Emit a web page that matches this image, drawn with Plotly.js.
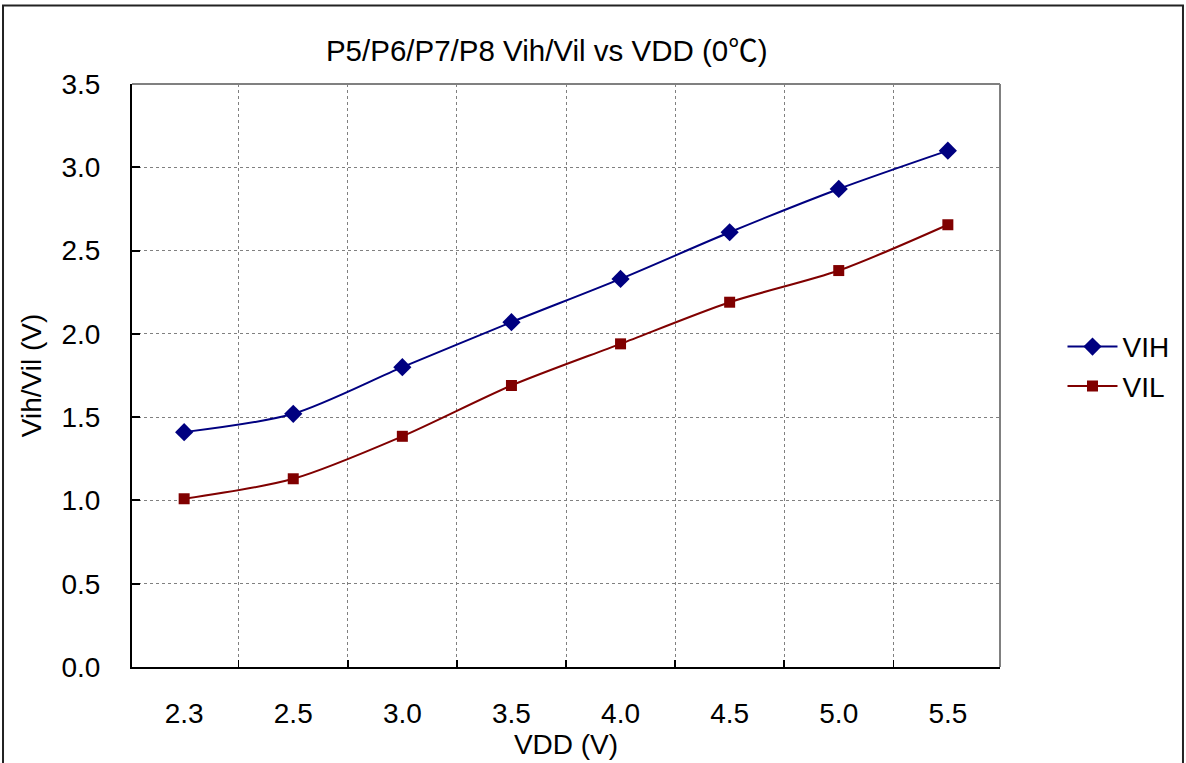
<!DOCTYPE html>
<html>
<head>
<meta charset="utf-8">
<script src="https://cdn.plot.ly/plotly-3.0.1.min.js"></script>
<style>
  html, body { margin: 0; padding: 0; background: #ffffff; }
  #chart { width: 1186px; height: 763px; }
</style>
</head>
<body>
<div id="chart"></div>
<script>
const vdd = ['2.3', '2.5', '3.0', '3.5', '4.0', '4.5', '5.0', '5.5'];
const vih = [1.41, 1.52, 1.80, 2.07, 2.33, 2.61, 2.87, 3.10];
const vil = [1.01, 1.13, 1.385, 1.69, 1.94, 2.19, 2.38, 2.655];

const FONT = '"Liberation Sans", Arial, "Noto Sans CJK SC", sans-serif';

const traces = [
  {
    x: vdd, y: vih, name: 'VIH', type: 'scatter', mode: 'lines+markers',
    line: {color: '#000080', width: 2, shape: 'spline', smoothing: 0.8},
    marker: {symbol: 'diamond', size: 14, color: '#000080'}
  },
  {
    x: vdd, y: vil, name: 'VIL', type: 'scatter', mode: 'lines+markers',
    line: {color: '#800000', width: 2, shape: 'spline', smoothing: 0.8},
    marker: {symbol: 'square', size: 11, color: '#800000'}
  }
];

const layout = {
  width: 1186, height: 763,
  margin: {l: 132, r: 186, t: 83.5, b: 96},
  paper_bgcolor: '#ffffff', plot_bgcolor: '#ffffff',
  font: {family: FONT, size: 28, color: '#000000'},
  showlegend: true,
  title: {
    text: 'P5/P6/P7/P8 Vih/Vil vs VDD (0℃)',
    font: {family: FONT, size: 29.5, color: '#000000'},
    xref: 'container', x: 0.461, xanchor: 'center',
    yref: 'container', y: 0.934, yanchor: 'middle'
  },
  xaxis: {
    type: 'category',
    tickson: 'boundaries',
    ticks: 'inside', ticklen: 7, tickwidth: 1.5, tickcolor: '#000000',
    showline: true, linecolor: '#000000', linewidth: 2,
    showgrid: true, gridcolor: '#808080', gridwidth: 1, griddash: 'dot',
    tickfont: {family: FONT, size: 28},
    ticklabelstandoff: 20,
    title: {text: 'VDD (V)', font: {family: FONT, size: 28}, standoff: 0},
    zeroline: false,
    fixedrange: true
  },
  yaxis: {
    range: [0, 3.5], dtick: 0.5, tickformat: '.1f',
    ticks: 'inside', ticklen: 8, tickwidth: 2, tickcolor: '#000000',
    showline: true, linecolor: '#000000', linewidth: 2,
    showgrid: true, gridcolor: '#808080', gridwidth: 1, griddash: 'dot',
    tickfont: {family: FONT, size: 28},
    ticklabelstandoff: 24,
    title: {text: 'Vih/Vil (V)', font: {family: FONT, size: 28}, standoff: 12},
    zeroline: false,
    fixedrange: true
  },
  legend: {
    x: 1.072, xanchor: 'left', y: 0.592, yanchor: 'top',
    font: {family: FONT, size: 28},
    bgcolor: 'rgba(0,0,0,0)', tracegroupgap: 0, itemwidth: 50
  },
  shapes: [
    {type: 'line', xref: 'paper', yref: 'paper', x0: 0, x1: 1, y0: 1, y1: 1,
     line: {color: '#808080', width: 2}},
    {type: 'line', xref: 'paper', yref: 'paper', x0: 1, x1: 1, y0: 0, y1: 1,
     line: {color: '#808080', width: 2}},
    {type: 'rect', xref: 'paper', yref: 'paper', x0: -0.1486, x1: 1.2108, y0: -0.3, y1: 1.1345,
     line: {color: '#222222', width: 2}, fillcolor: 'rgba(0,0,0,0)'}
  ]
};

Plotly.newPlot('chart', traces, layout, {displayModeBar: false, staticPlot: true});
</script>
</body>
</html>
